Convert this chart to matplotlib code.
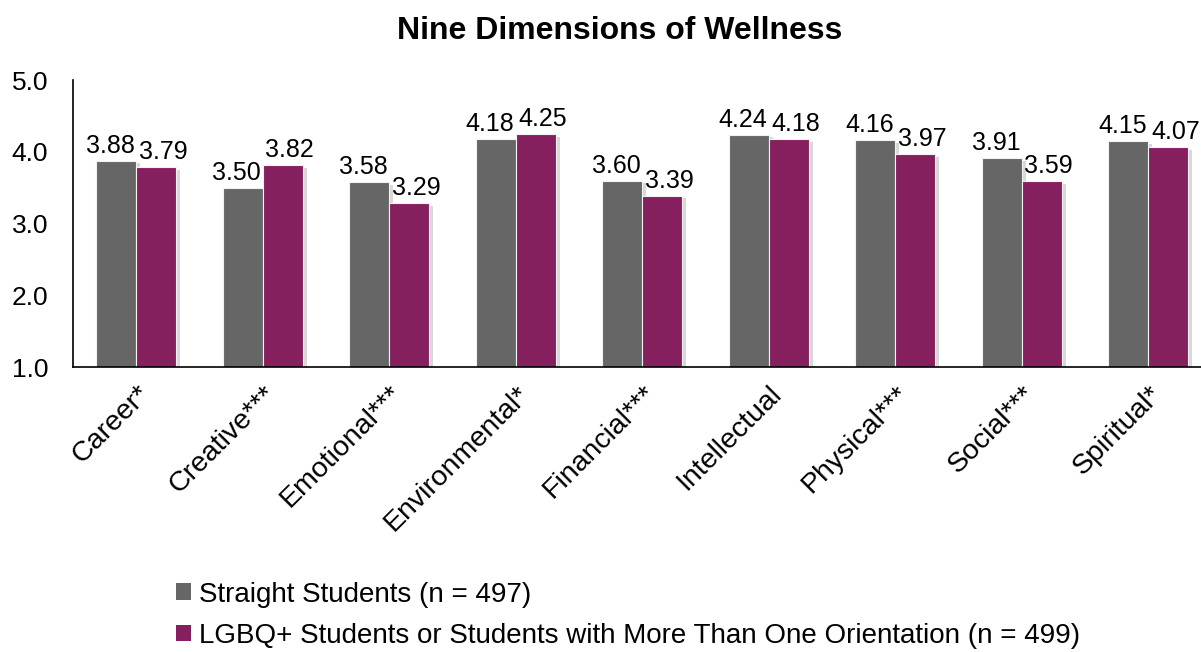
import matplotlib.pyplot as plt
import matplotlib.patheffects as pe
from matplotlib.patches import Patch
import numpy as np

plt.rcParams['font.family'] = ['Liberation Sans', 'DejaVu Sans']

categories = ['Career*', 'Creative***', 'Emotional***', 'Environmental*', 'Financial***',
              'Intellectual', 'Physical***', 'Social***', 'Spiritual*']
straight = [3.88, 3.50, 3.58, 4.18, 3.60, 4.24, 4.16, 3.91, 4.15]
lgbq = [3.79, 3.82, 3.29, 4.25, 3.39, 4.18, 3.97, 3.59, 4.07]
series_labels = ['Straight Students (n = 497)',
                 'LGBQ+ Students or Students with More Than One Orientation (n = 499)']
colors = ['#666666', '#851F5E']
yticks = [1.0, 2.0, 3.0, 4.0, 5.0]

fig = plt.figure(figsize=(12.01, 6.52), dpi=100)
ax = fig.add_axes([0.0608, 0.437, 0.948, 0.44])

x = np.arange(len(categories))
w = 0.316
shadow = [pe.SimplePatchShadow(offset=(3, -2), shadow_rgbFace='#c8c8c8', alpha=0.7), pe.Normal()]
label_shift = [-6, 7]  # pixels, keeps neighbouring value labels apart

for i, vals in enumerate([straight, lgbq]):
    pos = x + (i - 0.5) * w
    bars = ax.bar(pos, np.array(vals) - 1.0, bottom=1.0, width=w, color=colors[i],
                  edgecolor='#f2f2f2', linewidth=0.8, zorder=2)
    for b in bars:
        b.set_path_effects(shadow)
    for p, v in zip(pos, vals):
        ax.annotate(f'{v:.2f}', (p, v), xytext=(label_shift[i], 3), textcoords='offset pixels',
                    ha='center', va='bottom', fontsize=18)

ax.set_xlim(-0.5, len(categories) - 0.5)
ax.set_ylim(1.0, 5.0)
ax.set_yticks(yticks)
ax.set_yticklabels([f'{t:.1f}' for t in yticks], fontsize=19)
ax.set_xticks(x)
ax.set_xticklabels(categories, rotation=45, ha='right', rotation_mode='anchor', fontsize=20.5)
ax.tick_params(axis='x', length=0, pad=10)
ax.tick_params(axis='y', length=0, pad=18)
for s in ['top', 'right']:
    ax.spines[s].set_visible(False)
for s in ['left', 'bottom']:
    ax.spines[s].set_linewidth(1.2)

fig.text(0.516, 0.953, 'Nine Dimensions of Wellness', ha='center', va='center',
         fontsize=23, fontweight='bold')

handles = [Patch(facecolor=c, edgecolor='none') for c in colors]
fig.legend(handles, series_labels, loc='upper left', bbox_to_anchor=(0.137, 0.125),
           frameon=False, fontsize=20, handlelength=0.55, handleheight=0.55,
           handletextpad=0.3, labelspacing=0.55, borderaxespad=0)

fig.savefig('out.png', dpi=100)
